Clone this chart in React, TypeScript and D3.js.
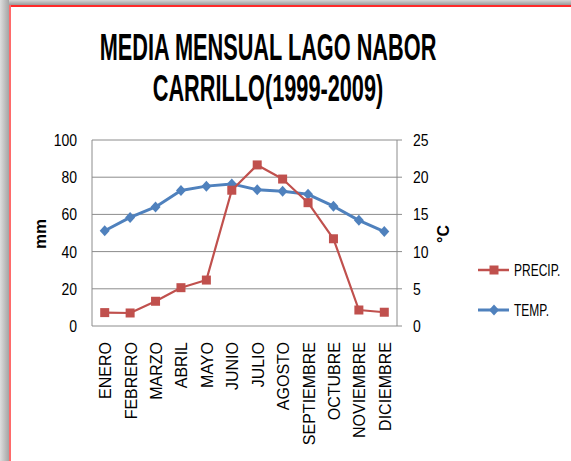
import React from "react";
import * as d3 from "d3";

const months = [
  "ENERO", "FEBRERO", "MARZO", "ABRIL", "MAYO", "JUNIO",
  "JULIO", "AGOSTO", "SEPTIEMBRE", "OCTUBRE", "NOVIEMBRE", "DICIEMBRE",
];
const precip = [7.2, 7, 13.3, 20.6, 24.7, 73, 86.6, 79, 66.3, 46.9, 8.6, 7.4];
const temp = [12.8, 14.6, 16, 18.2, 18.8, 19.1, 18.3, 18.1, 17.7, 16.1, 14.2, 12.7];
const mmTicks = [0, 20, 40, 60, 80, 100];
const cTicks = [0, 5, 10, 15, 20, 25];

const W = 571;
const H = 461;
const font = "'Liberation Sans', Arial, sans-serif";
const RED = "#C0504D";
const BLUE = "#4F81BD";

const Square = ({ x, y }: { x: number; y: number }) => (
  <rect x={x - 4.5} y={y - 4.5} width={9} height={9} fill={RED} />
);
const Diamond = ({ x, y }: { x: number; y: number }) => (
  <path d={`M${x},${y - 5.5}L${x + 5},${y}L${x},${y + 5.5}L${x - 5},${y}Z`} fill={BLUE} />
);

// the original text is a condensed font drawn stretched tall
const Tall = ({
  x, y, sx, sy, size, anchor = "start", bold = false, children,
}: {
  x: number; y: number; sx: number; sy: number; size: number;
  anchor?: string; bold?: boolean; children: React.ReactNode;
}) => (
  <text
    transform={`translate(${x},${y}) scale(${sx},${sy})`}
    fontSize={size}
    fontFamily={font}
    fontWeight={bold ? "bold" : "normal"}
    textAnchor={anchor}
    fill="#000"
  >
    {children}
  </text>
);

export default function App() {
  const x = d3.scaleBand().domain(months).range([92, 397]);
  const cx = (m: string) => (x(m) as number) + x.bandwidth() / 2;
  const yL = d3.scaleLinear().domain([0, 100]).range([326, 140]);
  const yR = d3.scaleLinear().domain([0, 25]).range([326, 140]);

  const precipLine = d3
    .line<number>()
    .x((_, i) => cx(months[i]))
    .y((d) => yL(d));
  const tempLine = d3
    .line<number>()
    .x((_, i) => cx(months[i]))
    .y((d) => yR(d));

  return (
    <svg
      width={W}
      height={H}
      style={{ position: "absolute", left: 0, top: 0, background: "#fff" }}
    >
      <defs>
        <linearGradient id="shTop" x1="0" y1="0" x2="0" y2="1">
          <stop offset="0" stopColor="#d6d6d6" />
          <stop offset="1" stopColor="#9a9a9a" />
        </linearGradient>
        <linearGradient id="shLeft" x1="0" y1="0" x2="1" y2="0">
          <stop offset="0" stopColor="#dedede" />
          <stop offset="1" stopColor="#a4a4a4" />
        </linearGradient>
      </defs>

      {/* frame shadow + red border */}
      <rect x={0} y={0} width={W} height={5} fill="url(#shTop)" />
      <rect x={0} y={0} width={9} height={H} fill="url(#shLeft)" />
      <line x1={9} x2={W} y1={6} y2={6} stroke="#ff2a2a" strokeWidth={2} />
      <line x1={10} x2={10} y1={5} y2={H} stroke="#ff6a6a" strokeWidth={2} />

      {/* title */}
      <Tall x={268} y={60} sx={0.82} sy={1.38} size={26.5} anchor="middle" bold>
        MEDIA MENSUAL LAGO NABOR
      </Tall>
      <Tall x={268} y={101} sx={0.82} sy={1.38} size={26.5} anchor="middle" bold>
        CARRILLO(1999-2009)
      </Tall>

      {/* gridlines */}
      {mmTicks.map((t) => (
        <line key={t} x1={92} x2={397} y1={yL(t)} y2={yL(t)} stroke="#8c8c8c" strokeWidth={1} />
      ))}
      <line x1={92} x2={92} y1={140} y2={326} stroke="#8c8c8c" />
      <line x1={397} x2={397} y1={140} y2={326} stroke="#8c8c8c" />
      {cTicks.map((t) => (
        <line key={t} x1={397} x2={402} y1={yR(t)} y2={yR(t)} stroke="#8c8c8c" />
      ))}

      {/* tick labels */}
      {mmTicks.map((t) => (
        <Tall key={t} x={77} y={yL(t) + 6} sx={1} sy={1.22} size={14} anchor="end">
          {t}
        </Tall>
      ))}
      {cTicks.map((t) => (
        <Tall key={t} x={413} y={yR(t) + 6} sx={1} sy={1.22} size={14}>
          {t}
        </Tall>
      ))}

      {/* axis titles */}
      <text
        transform="translate(46,234) rotate(-90)"
        textAnchor="middle"
        fontFamily={font}
        fontWeight="bold"
        fontSize={17}
      >
        mm
      </text>
      <text
        transform="translate(449,234) rotate(-90)"
        textAnchor="middle"
        fontFamily={font}
        fontWeight="bold"
        fontSize={16}
      >
        °C
      </text>

      {/* category labels */}
      <g fontFamily={font} fontSize={16} fill="#000">
        {months.map((m) => (
          <text key={m} transform={`translate(${cx(m) + 6.5},342) rotate(-90)`} textAnchor="end">
            {m}
          </text>
        ))}
      </g>

      {/* series */}
      <path d={tempLine(temp) ?? ""} fill="none" stroke={BLUE} strokeWidth={3} strokeLinejoin="round" />
      {temp.map((d, i) => (
        <Diamond key={i} x={cx(months[i])} y={yR(d)} />
      ))}
      <path d={precipLine(precip) ?? ""} fill="none" stroke={RED} strokeWidth={2.2} strokeLinejoin="round" />
      {precip.map((d, i) => (
        <Square key={i} x={cx(months[i])} y={yL(d)} />
      ))}

      {/* legend */}
      <line x1={478} x2={509} y1={270} y2={270} stroke={RED} strokeWidth={2.5} />
      <Square x={494} y={270} />
      <Tall x={514} y={276} sx={1} sy={1.35} size={12}>PRECIP.</Tall>
      <line x1={478} x2={509} y1={310} y2={310} stroke={BLUE} strokeWidth={3} />
      <Diamond x={494} y={310} />
      <Tall x={514} y={316} sx={1} sy={1.35} size={12}>TEMP.</Tall>
    </svg>
  );
}
